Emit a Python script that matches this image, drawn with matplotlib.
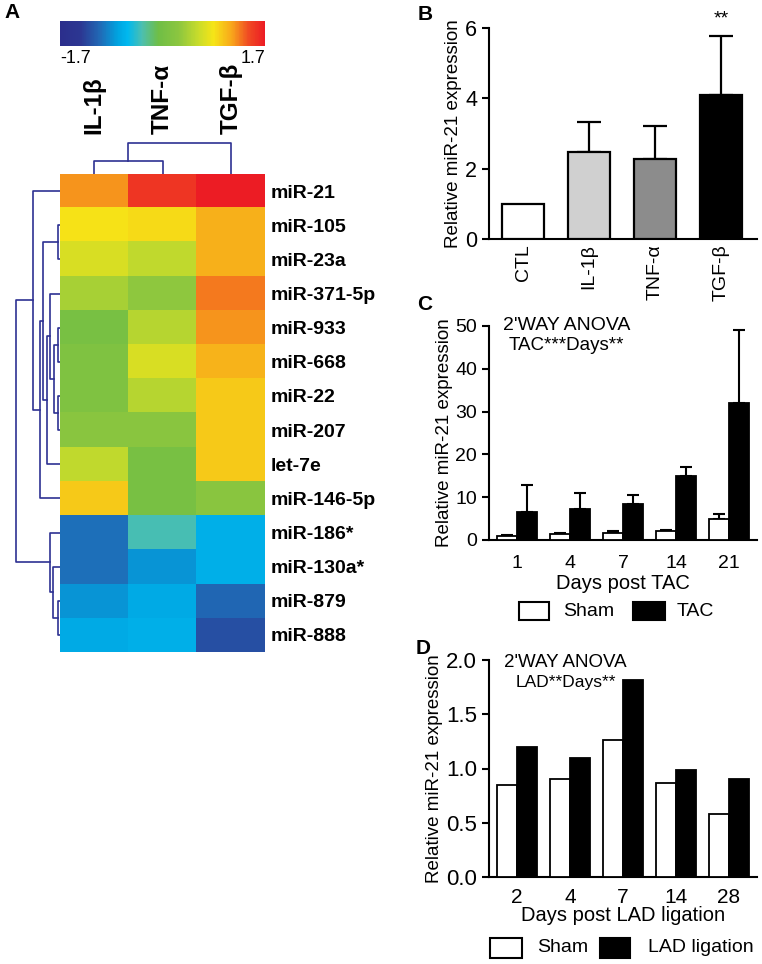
import matplotlib
matplotlib.use('Agg')
import matplotlib.pyplot as plt
from matplotlib.colors import LinearSegmentedColormap
from matplotlib.patches import Rectangle
import numpy as np

plt.rcParams['font.family'] = ['Liberation Sans', 'DejaVu Sans']

# ---- data ----
mirnas = ['miR-21', 'miR-105', 'miR-23a', 'miR-371-5p', 'miR-933', 'miR-668', 'miR-22',
          'miR-207', 'let-7e', 'miR-146-5p', 'miR-186*', 'miR-130a*', 'miR-879', 'miR-888']
stimuli = ['IL-1β', 'TNF-α', 'TGF-β']
il1b = [1.2, 0.85, 0.68, 0.42, 0.05, 0.12, 0.12, 0.25, 0.55, 0.98, -1.0, -1.0, -0.82, -0.68]
tnfa = [1.55, 0.9, 0.55, 0.28, 0.5, 0.68, 0.5, 0.25, 0.05, 0.05, -0.35, -0.82, -0.68, -0.65]
tgfb = [1.7, 1.1, 1.1, 1.28, 1.2, 1.08, 0.98, 0.98, 0.98, 0.25, -0.65, -0.65, -1.05, -1.2]

# dendrograms: (height, left, right), leaves are row/column indices
row_tree = (44,
            (27, 0, (20, (17, (2, 1, 2), (13, (10, 3, (6, (2, 4, 5), (2, 6, 7))), 8)), 9)),
            (10, 10, (7, 11, (2, 12, 13))))
col_tree = (31, (13, 0, 1), 2)

b_groups = ['CTL', 'IL-1β', 'TNF-α', 'TGF-β']
b_mean = [1.0, 2.46, 2.28, 4.09]
b_err = [0.0, 0.88, 0.92, 1.68]

c_days = ['1', '4', '7', '14', '21']
c_sham = [1.0, 1.4, 1.7, 2.0, 4.8]
c_sham_err = [0.1, 0.2, 0.5, 0.3, 1.2]
c_tac = [6.6, 7.2, 8.3, 15.0, 32.0]
c_tac_err = [6.3, 3.8, 2.1, 2.0, 17.0]

d_days = ['2', '4', '7', '14', '28']
d_sham = [0.85, 0.9, 1.26, 0.87, 0.58]
d_lad = [1.2, 1.1, 1.82, 0.99, 0.9]

W, H = 762, 964
fig = plt.figure(figsize=(W / 100, H / 100), dpi=100)


def box(x0, y0, x1, y1):
    return [x0 / W, 1 - y1 / H, (x1 - x0) / W, (y1 - y0) / H]


navy = '#2e3192'
cmap = LinearSegmentedColormap.from_list('hm', [
    (0.00, '#2b2e8c'), (0.10, '#2c3792'), (0.20, '#1f6db8'), (0.28, '#00a3e0'),
    (0.33, '#00b8ef'), (0.40, '#4cbfb0'), (0.48, '#6fbe46'), (0.58, '#8cc63f'),
    (0.67, '#c5db2c'), (0.75, '#f6e517'), (0.84, '#f8a51b'), (0.92, '#f04b23'),
    (1.00, '#ec1c24')])

# ---- panel A: heatmap ----
ax_hm = fig.add_axes(box(60, 174, 265, 652))
mat = np.column_stack([il1b, tnfa, tgfb])
im = ax_hm.imshow(mat, cmap=cmap, vmin=-1.7, vmax=1.7, aspect='auto',
                  extent=(0, 3, len(mirnas), 0), interpolation='nearest')
ax_hm.set_xticks([])
ax_hm.yaxis.tick_right()
ax_hm.set_yticks(np.arange(len(mirnas)) + 0.5)
ax_hm.set_yticklabels(mirnas, fontsize=14, fontweight='bold')
ax_hm.tick_params(axis='y', length=0, pad=4)
for s in ax_hm.spines.values():
    s.set_visible(False)


def draw_tree(ax, node, horizontal):
    # returns leaf-axis position of node, draws links
    if isinstance(node, int):
        return node + 0.5, 0
    h, left, right = node
    p1, h1 = draw_tree(ax, left, horizontal)
    p2, h2 = draw_tree(ax, right, horizontal)
    if horizontal:
        ax.plot([h1, h, h, h2], [p1, p1, p2, p2], color=navy, lw=1.2)
    else:
        ax.plot([p1, p1, p2, p2], [h1, h, h, h2], color=navy, lw=1.2)
    return (p1 + p2) / 2, h


ax_rd = fig.add_axes(box(14, 174, 60, 652))
draw_tree(ax_rd, row_tree, True)
ax_rd.set_xlim(46, 0)
ax_rd.set_ylim(len(mirnas), 0)
ax_rd.axis('off')

ax_cd = fig.add_axes(box(60, 140, 265, 174))
draw_tree(ax_cd, col_tree, False)
ax_cd.set_xlim(0, 3)
ax_cd.set_ylim(0, 34)
for s in ax_cd.spines.values():
    s.set_visible(False)
ax_cd.set_yticks([])
ax_cd.xaxis.tick_top()
ax_cd.set_xticks([0.5, 1.5, 2.5])
ax_cd.set_xticklabels(stimuli, rotation=90, fontsize=17.5, fontweight='bold')
ax_cd.tick_params(axis='x', length=0, pad=4)

cax = fig.add_axes(box(60, 21, 265, 46))
cb = fig.colorbar(im, cax=cax, orientation='horizontal', ticks=[-1.7, 1.7])
cb.outline.set_visible(False)
cb.ax.set_xticklabels(['-1.7', '1.7'], fontsize=13)
cb.ax.tick_params(length=0, pad=3)
tl = cb.ax.get_xticklabels()
tl[0].set_ha('left')
tl[1].set_ha('right')


def style(ax, lw=1.5):
    for s in ['top', 'right']:
        ax.spines[s].set_visible(False)
    for s in ['left', 'bottom']:
        ax.spines[s].set_linewidth(lw)
    ax.tick_params(axis='y', direction='out', length=5, width=lw)
    ax.tick_params(axis='x', length=0)


# ---- panel B ----
axb = fig.add_axes(box(489, 28, 757, 239))
xb = np.arange(len(b_groups))
axb.bar(xb, b_mean, width=0.64, color=['white', '#d0d0d0', '#8c8c8c', 'black'],
        edgecolor='black', linewidth=1.6, zorder=3)
axb.errorbar(xb[1:], b_mean[1:], yerr=[np.zeros(3), b_err[1:]], fmt='none',
             ecolor='black', elinewidth=1.6, capsize=8.5, capthick=1.6, zorder=2)
axb.set_xlim(-0.52, 3.55)
axb.set_ylim(0, 6)
axb.set_yticks([0, 2, 4, 6])
axb.set_xticks(xb)
axb.set_xticklabels(b_groups, rotation=90, fontsize=14)
axb.tick_params(axis='y', labelsize=15.5)
axb.set_ylabel('Relative miR-21 expression', fontsize=13.5, labelpad=2)
axb.text(3, 6.27, '**', ha='center', va='center', fontsize=14, clip_on=False)
style(axb)

# ---- panel C ----
axc = fig.add_axes(box(489, 326, 757, 540))
xc = np.arange(len(c_days))
bw = 0.38
axc.bar(xc - bw / 2, c_sham, width=bw, color='white', edgecolor='black', linewidth=1.3, zorder=3)
axc.bar(xc + bw / 2, c_tac, width=bw, color='black', edgecolor='black', linewidth=1.3, zorder=3)
axc.errorbar(xc - bw / 2, c_sham, yerr=[np.zeros(5), c_sham_err], fmt='none', ecolor='black',
             elinewidth=1.5, capsize=4, capthick=1.5, zorder=2)
axc.errorbar(xc + bw / 2, c_tac, yerr=[np.zeros(5), c_tac_err], fmt='none', ecolor='black',
             elinewidth=1.5, capsize=4.5, capthick=1.5, zorder=2)
axc.set_xlim(-0.53, 4.53)
axc.set_ylim(0, 50)
axc.set_yticks(np.arange(0, 51, 10))
axc.set_xticks(xc)
axc.set_xticklabels(c_days, fontsize=14)
axc.tick_params(axis='y', labelsize=14)
axc.set_ylabel('Relative miR-21 expression', fontsize=13.5, labelpad=2)
axc.set_xlabel('Days post TAC', fontsize=14.5, labelpad=1)
axc.text(0.29, 1.0, "2'WAY ANOVA", transform=axc.transAxes, ha='center', va='center', fontsize=14)
axc.text(0.29, 0.91, 'TAC***Days**', transform=axc.transAxes, ha='center', va='center', fontsize=13.5)
style(axc)
axc.tick_params(axis='x', pad=11)

# ---- panel D ----
axd = fig.add_axes(box(489, 660, 757, 877))
xd = np.arange(len(d_days))
axd.bar(xd - bw / 2, d_sham, width=bw, color='white', edgecolor='black', linewidth=1.3, zorder=3)
axd.bar(xd + bw / 2, d_lad, width=bw, color='black', edgecolor='black', linewidth=1.3, zorder=3)
axd.set_xlim(-0.53, 4.53)
axd.set_ylim(0, 2.0)
axd.set_yticks([0, 0.5, 1.0, 1.5, 2.0])
axd.set_yticklabels(['0.0', '0.5', '1.0', '1.5', '2.0'])
axd.set_xticks(xd)
axd.set_xticklabels(d_days, fontsize=15)
axd.tick_params(axis='y', labelsize=16)
axd.set_ylabel('Relative miR-21 expression', fontsize=13.5, labelpad=2)
axd.set_xlabel('Days post LAD ligation', fontsize=14.5, labelpad=-1)
axd.text(0.285, 0.99, "2'WAY ANOVA", transform=axd.transAxes, ha='center', va='center', fontsize=13.5)
axd.text(0.285, 0.895, 'LAD**Days**', transform=axd.transAxes, ha='center', va='center', fontsize=12.5)
style(axd)
axd.tick_params(axis='x', pad=8)


# ---- legends ----
def legend_item(x0, y0, x1, y1, face, label, tx):
    fig.add_artist(Rectangle((x0 / W, 1 - y1 / H), (x1 - x0) / W, (y1 - y0) / H,
                             facecolor=face, edgecolor='black', linewidth=1.5,
                             transform=fig.transFigure))
    fig.text(tx / W, 1 - (y0 + y1) / 2 / H, label, ha='left', va='center', fontsize=14)


legend_item(519, 602, 549, 620, 'white', 'Sham', 563)
legend_item(633, 602, 665, 620, 'black', 'TAC', 677)
legend_item(490, 938, 522, 958, 'white', 'Sham', 537)
legend_item(600, 938, 630, 958, 'black', 'LAD ligation', 648)

# panel letters
for lab, x, y in [('A', 12, 13), ('B', 425, 15), ('C', 425, 305), ('D', 423, 648)]:
    fig.text(x / W, 1 - y / H, lab, ha='center', va='center', fontsize=15, fontweight='bold')

fig.savefig('out.png', dpi=100)
